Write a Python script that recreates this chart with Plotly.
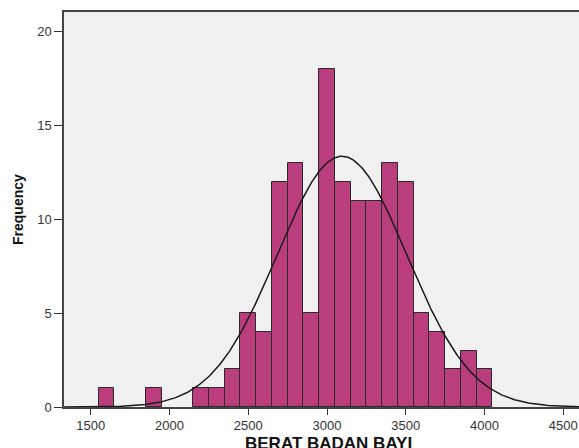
import numpy as np
import plotly.graph_objects as go

# Histogram data (bin centers, bin width 100)
bin_centers = [1600, 1900, 2200, 2300, 2400, 2500, 2600, 2700, 2800, 2900,
               3000, 3100, 3200, 3300, 3400, 3500, 3600, 3700, 3800, 3900, 4000]
counts = [1, 1, 1, 1, 2, 5, 4, 12, 13, 5,
          18, 12, 11, 11, 13, 12, 5, 4, 2, 3, 2]
bin_width = 100

# Normal curve parameters (fitted overlay)
mean_val = 3095
sd_val = 412
n_total = sum(counts)

x_ticks = [1500, 2000, 2500, 3000, 3500, 4000, 4500]
y_ticks = [0, 5, 10, 15, 20]

xc = np.linspace(1330, 4600, 400)
yc = n_total * bin_width / (sd_val * np.sqrt(2 * np.pi)) * np.exp(-0.5 * ((xc - mean_val) / sd_val) ** 2)

W, H = 579, 448
ML, MR, MT, MB = 64, 0, 12, 41
plot_w = W - ML - MR
plot_h = H - MT - MB

fig = go.Figure()
fig.add_trace(go.Bar(
    x=bin_centers, y=counts, width=bin_width,
    marker=dict(color="#BA3E7E", line=dict(color="#2a2a2a", width=1)),
    hoverinfo="skip",
))
fig.add_trace(go.Scatter(
    x=xc, y=yc, mode="lines",
    line=dict(color="#1a1a1a", width=1.5),
    hoverinfo="skip",
))

tickfont = dict(family="Liberation Sans, Arial, sans-serif", size=13, color="#333333")
titlefont_x = dict(family="Liberation Sans, Arial, sans-serif", size=17, color="#111111")
titlefont_y = dict(family="Liberation Sans, Arial, sans-serif", size=14, color="#111111")

fig.update_layout(
    width=W, height=H,
    margin=dict(l=ML, r=MR, t=MT, b=MB),
    paper_bgcolor="white",
    plot_bgcolor="#F0F0F0",
    showlegend=False,
    bargap=0,
    xaxis=dict(
        range=[1330, 4600],
        tickvals=x_ticks, ticktext=[str(v) for v in x_ticks],
        ticks="outside", ticklen=6, tickwidth=1, tickcolor="#333333",
        showgrid=False, zeroline=False,
        showline=True, linecolor="#444444", linewidth=1.5,
        mirror=True,
        tickfont=tickfont,
    ),
    yaxis=dict(
        range=[0, 21.05],
        tickvals=y_ticks, ticktext=[str(v) for v in y_ticks],
        ticks="outside", ticklen=8, tickwidth=1, tickcolor="#333333",
        showgrid=False, zeroline=False,
        showline=True, linecolor="#444444", linewidth=1.5,
        tickfont=tickfont,
    ),
    annotations=[
        dict(text="<b>BERAT BADAN BAYI</b>",
             x=(328 - ML) / plot_w, y=-(432 - (H - MB)) / plot_h,
             xref="paper", yref="paper", xanchor="center", yanchor="top",
             showarrow=False, font=titlefont_x),
        dict(text="<b>Frequency</b>", textangle=-90,
             x=(18 - ML) / plot_w, y=(H - MB - 210) / plot_h,
             xref="paper", yref="paper", xanchor="center", yanchor="middle",
             showarrow=False, font=titlefont_y),
    ],
)

fig.write_html("out.html", config={"displayModeBar": False},
               post_script="document.body.style.margin='0px';document.body.style.padding='0px';")
